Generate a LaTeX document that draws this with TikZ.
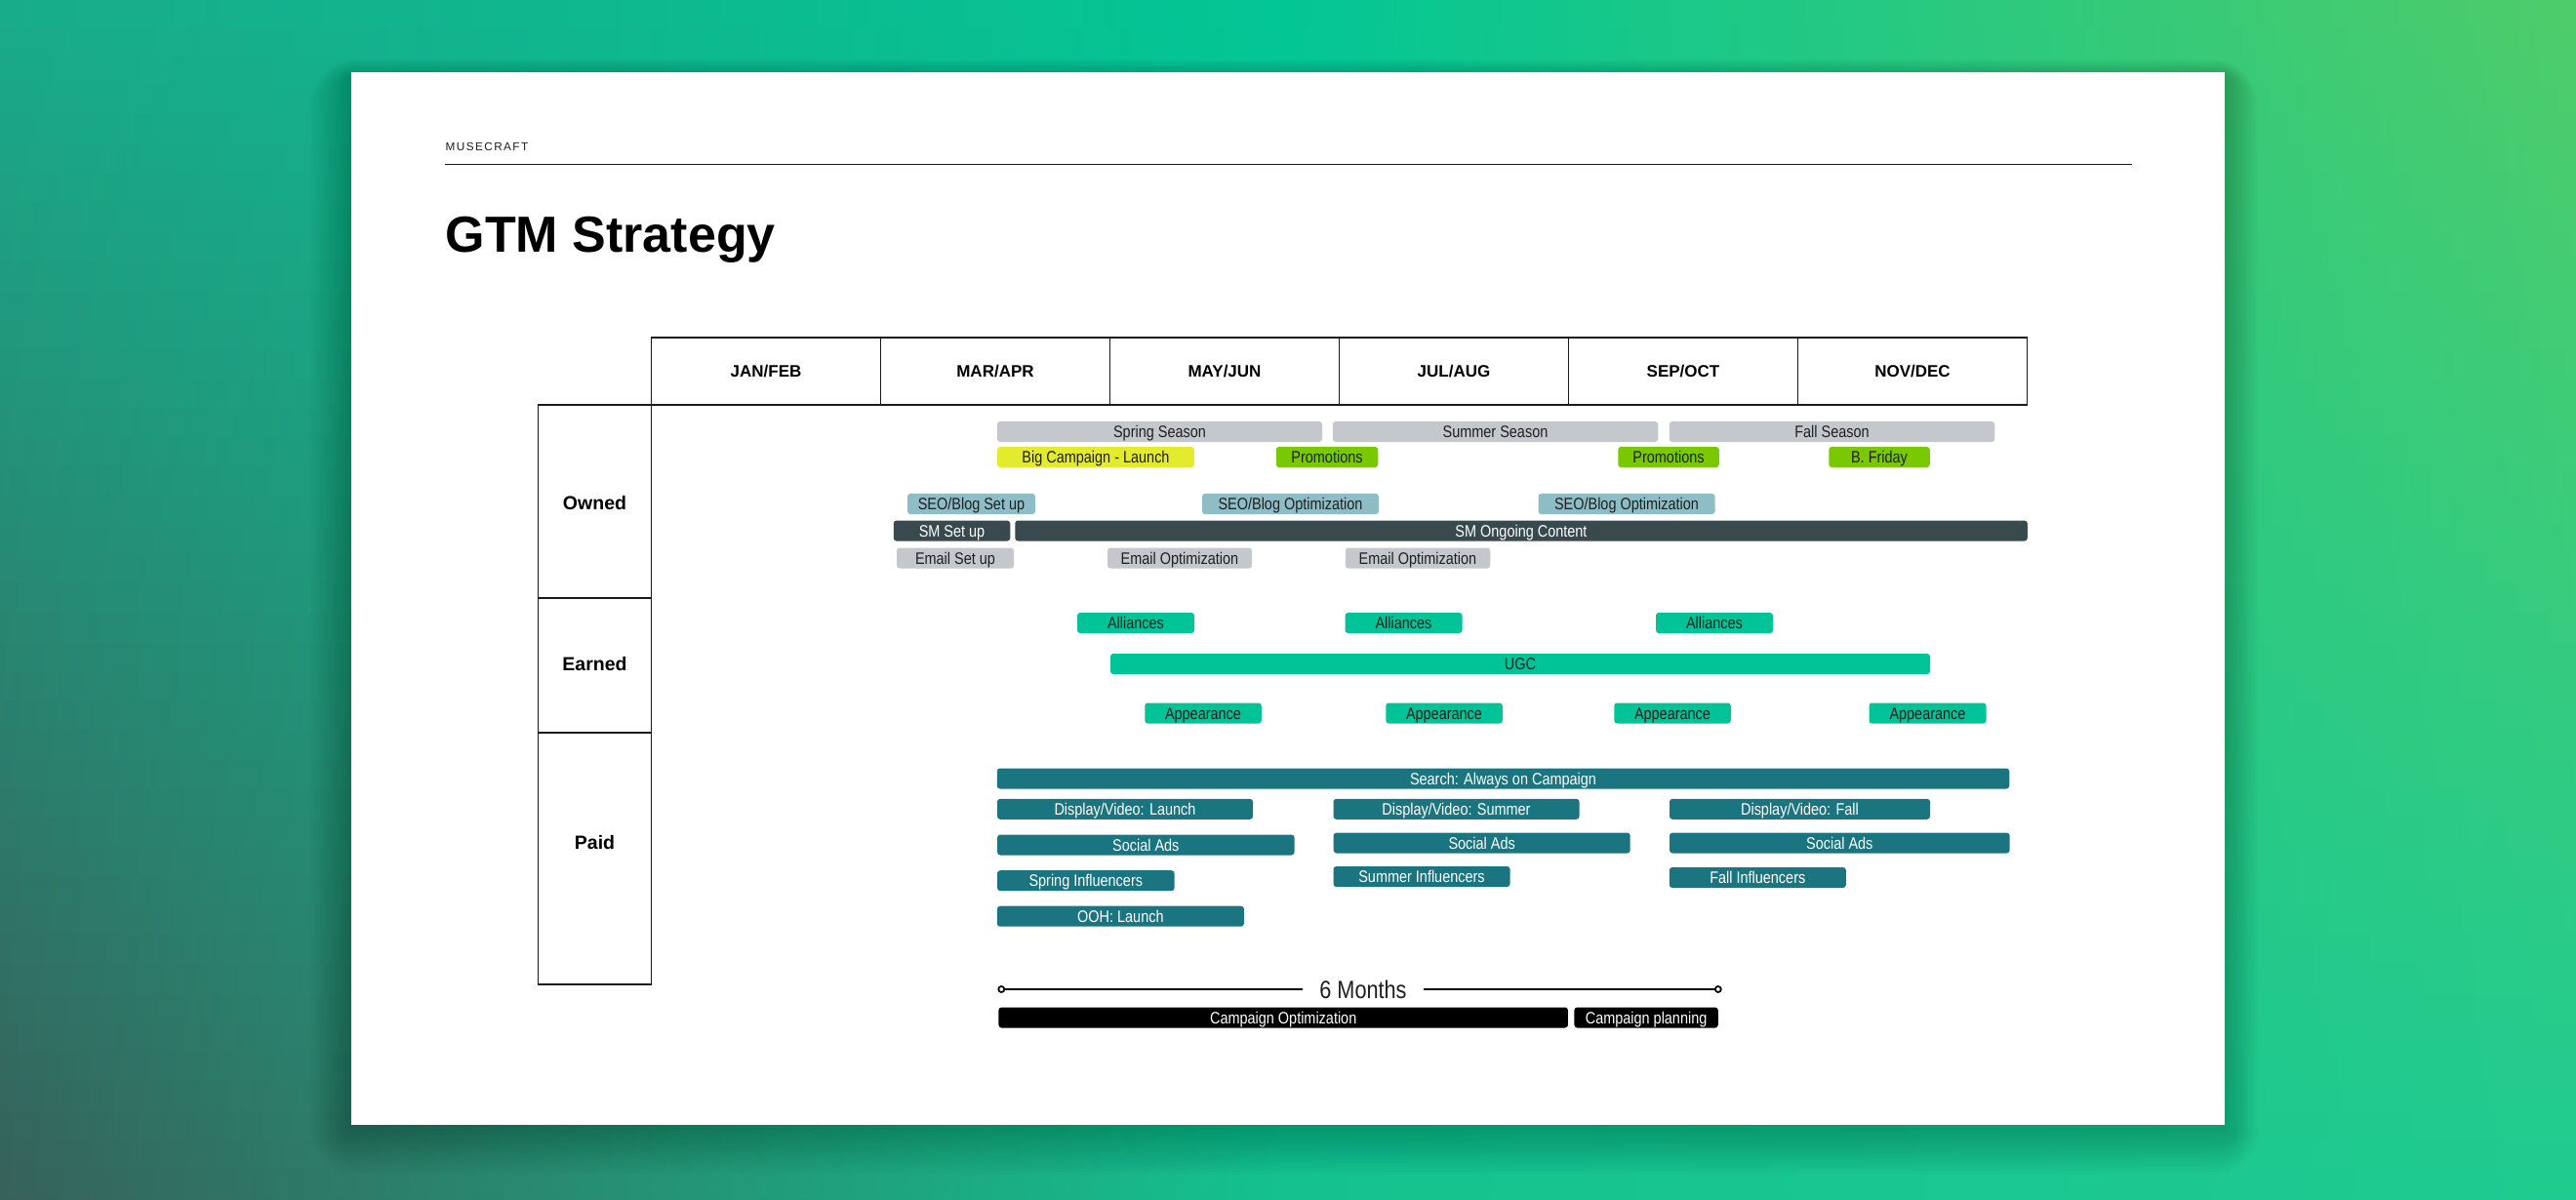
\documentclass[tikz,border=0pt]{standalone}
\usepackage{fontspec}
\setmainfont{Liberation Sans}
\newfontfamily\barfont[FakeStretch=0.85]{Liberation Sans}
\newfontfamily\brandfont[LetterSpace=12]{Liberation Sans}
\usetikzlibrary{positioning}
\definecolor{bgTL}{HTML}{19AC89}
\definecolor{bgTM}{HTML}{03C695}
\definecolor{bgTR}{HTML}{4FCC6A}
\definecolor{bgBL}{HTML}{37605A}
\definecolor{bgBM}{HTML}{14C28F}
\definecolor{bgBR}{HTML}{1FCB91}
\definecolor{seasonFill}{HTML}{C4C8CD}
\definecolor{launchFill}{HTML}{E3EB2C}
\definecolor{promoFill}{HTML}{79C800}
\definecolor{seoFill}{HTML}{8FBDC6}
\definecolor{smFill}{HTML}{394A4F}
\definecolor{earnedFill}{HTML}{00C398}
\definecolor{paidFill}{HTML}{1B7580}
\colorlet{gridInk}{black!90}
\colorlet{ink}{black!88}
\tikzset{
  grid/.style={draw=gridInk, line width=0.5pt},
  monthcell/.style={
    grid,
    minimum width=2.35cm,
    minimum height=0.69cm,
    inner sep=0pt,
    font=\bfseries\fontsize{4.84}{5.8}\selectfont
  },
  rowlabel/.style={inner sep=0pt, font=\bfseries\fontsize{5.55}{6.6}\selectfont},
  bar/.style={
    rounded corners=0.03cm,
    inner sep=0pt,
    minimum height=0.21cm,
    text height=0.122cm,
    text depth=0pt,
    text=ink,
    font=\barfont\fontsize{4.84}{5.8}\selectfont
  },
  seasonbar/.style={bar, fill=seasonFill},
  launchbar/.style={bar, fill=launchFill},
  promobar/.style={bar, fill=promoFill},
  seobar/.style={bar, fill=seoFill},
  smbar/.style={bar, fill=smFill, text=white},
  earnedbar/.style={bar, fill=earnedFill},
  paidbar/.style={bar, fill=paidFill, text=white},
  blackbar/.style={bar, fill=black, text=white},
  endmark/.style={circle, draw=black, fill=white, line width=0.5pt, inner sep=0pt, minimum size=0.06cm},
  span/.style={draw=black, line width=0.55pt}
}

\begin{document}
\begin{tikzpicture}[x=1cm,y=-1cm]
  \useasboundingbox (0,0) rectangle (26.4,12.3);

  \foreach \k in {0,...,41} {
    \pgfmathsetmacro\p{100*\k/41}
    \colorlet{bgL}{bgBL!\p!bgTL}
    \colorlet{bgM}{bgBM!\p!bgTM}
    \colorlet{bgR}{bgBR!\p!bgTR}
    \shade[left color=bgL, right color=bgR, middle color=bgM] (0,0.3*\k-0.02) rectangle (26.4,0.3*\k+0.3);
  }
  \foreach \s in {1,...,16}
    \fill[black, opacity=0.012, rounded corners=0.03*\s cm] (3.58-0.025*\s, 0.80-0.012*\s) rectangle (22.80+0.022*\s, 11.56+0.03*\s);
  \fill[white] (3.60,0.74) rectangle (22.80,11.53);

  \node[anchor=base west, inner sep=0pt, font=\brandfont\fontsize{3.35}{4}\selectfont, text=ink] (brand) at (4.56,1.545) {MUSECRAFT};
  \draw[line width=0.45pt, gridInk] (4.56,1.686) -- (21.85,1.686);
  \node[anchor=base west, inner sep=0pt, font=\bfseries\fontsize{14.8}{17}\selectfont] (title) at (4.56,2.59) {GTM Strategy};

  \foreach \m [count=\i] in {JAN/FEB,MAR/APR,MAY/JUN,JUL/AUG,SEP/OCT,NOV/DEC}
    \node[monthcell] (month\i) at ({5.5+2.35*\i},3.805) {\m};
  \draw[grid] (5.515,4.15) rectangle (6.675,10.09);
  \draw[grid] (5.515,6.13) -- (6.675,6.13);
  \draw[grid] (5.515,7.51) -- (6.675,7.51);
  \node[rowlabel] (owned) at (6.095,5.16) {Owned};
  \node[rowlabel] (earned) at (6.095,6.81) {Earned};
  \node[rowlabel] (paid) at (6.095,8.64) {Paid};

  \node[seasonbar, minimum width=3.33cm] (spring) at (11.885,4.425) {Spring Season};
  \node[seasonbar, minimum width=3.335cm] (summer) at (15.325,4.425) {Summer Season};
  \node[seasonbar, minimum width=3.335cm] (fall) at (18.775,4.425) {Fall Season};
  \node[launchbar, minimum width=2.02cm] (launch) at (11.23,4.685) {Big Campaign - Launch};
  \node[promobar, minimum width=1.045cm] (promoA) at (13.60,4.685) {Promotions};
  \node[promobar, minimum width=1.035cm] (promoB) at (17.10,4.685) {Promotions};
  \node[promobar, minimum width=1.035cm] (friday) at (19.26,4.685) {B. Friday};
  \node[seobar, minimum width=1.31cm] (seoA) at (9.955,5.165) {SEO/Blog Set up};
  \node[seobar, minimum width=1.81cm] (seoB) at (13.225,5.165) {SEO/Blog Optimization};
  \node[seobar, minimum width=1.81cm] (seoC) at (16.67,5.165) {SEO/Blog Optimization};
  \node[smbar, minimum width=1.195cm] (smA) at (9.755,5.44) {SM Set up};
  \node[smbar, minimum width=10.375cm] (smB) at (15.59,5.44) {SM Ongoing Content};
  \node[seasonbar, minimum width=1.2cm] (mailA) at (9.79,5.72) {Email Set up};
  \node[seasonbar, minimum width=1.48cm] (mailB) at (12.09,5.72) {Email Optimization};
  \node[seasonbar, minimum width=1.485cm] (mailC) at (14.53,5.72) {Email Optimization};

  \node[earnedbar, minimum width=1.2cm] (allyA) at (11.64,6.385) {Alliances};
  \node[earnedbar, minimum width=1.2cm] (allyB) at (14.385,6.385) {Alliances};
  \node[earnedbar, minimum width=1.2cm] (allyC) at (17.57,6.385) {Alliances};
  \node[earnedbar, minimum width=8.4cm] (ugc) at (15.58,6.805) {UGC};
  \node[earnedbar, minimum width=1.195cm] (showA) at (12.33,7.31) {Appearance};
  \node[earnedbar, minimum width=1.195cm] (showB) at (14.80,7.31) {Appearance};
  \node[earnedbar, minimum width=1.195cm] (showC) at (17.14,7.31) {Appearance};
  \node[earnedbar, minimum width=1.2cm] (showD) at (19.755,7.31) {Appearance};

  \node[paidbar, minimum width=10.375cm] (search) at (15.405,7.98) {Search: Always on Campaign};
  \node[paidbar, minimum width=2.62cm] (dvA) at (11.53,8.293) {Display/Video: Launch};
  \node[paidbar, minimum width=2.52cm] (dvB) at (14.925,8.293) {Display/Video: Summer};
  \node[paidbar, minimum width=2.67cm] (dvC) at (18.445,8.293) {Display/Video: Fall};
  \node[paidbar, minimum width=3.045cm] (adsA) at (11.743,8.66) {Social Ads};
  \node[paidbar, minimum width=3.04cm] (adsB) at (15.187,8.64) {Social Ads};
  \node[paidbar, minimum width=3.485cm] (adsC) at (18.853,8.64) {Social Ads};
  \node[paidbar, minimum width=1.815cm] (inflA) at (11.128,9.027) {Spring Influencers};
  \node[paidbar, minimum width=1.81cm] (inflB) at (14.57,8.985) {Summer Influencers};
  \node[paidbar, minimum width=1.81cm] (inflC) at (18.013,8.995) {Fall Influencers};
  \node[paidbar, minimum width=2.53cm] (ooh) at (11.484,9.392) {OOH: Launch};

  \node[endmark] (lend) at (10.263,10.14) {};
  \node[endmark] (rend) at (17.608,10.14) {};
  \node[inner xsep=0.17cm, inner ysep=0pt, font=\barfont\fontsize{7.26}{8.7}\selectfont, text=ink] (six) at (13.97,10.14) {6 Months};
  \draw[span] (lend) -- (six);
  \draw[span] (six) -- (rend);
  \node[blackbar, minimum width=5.835cm] (optim) at (13.152,10.43) {Campaign Optimization};
  \node[blackbar, minimum width=1.473cm] (plan) at (16.871,10.43) {Campaign planning};
\end{tikzpicture}
\end{document}
